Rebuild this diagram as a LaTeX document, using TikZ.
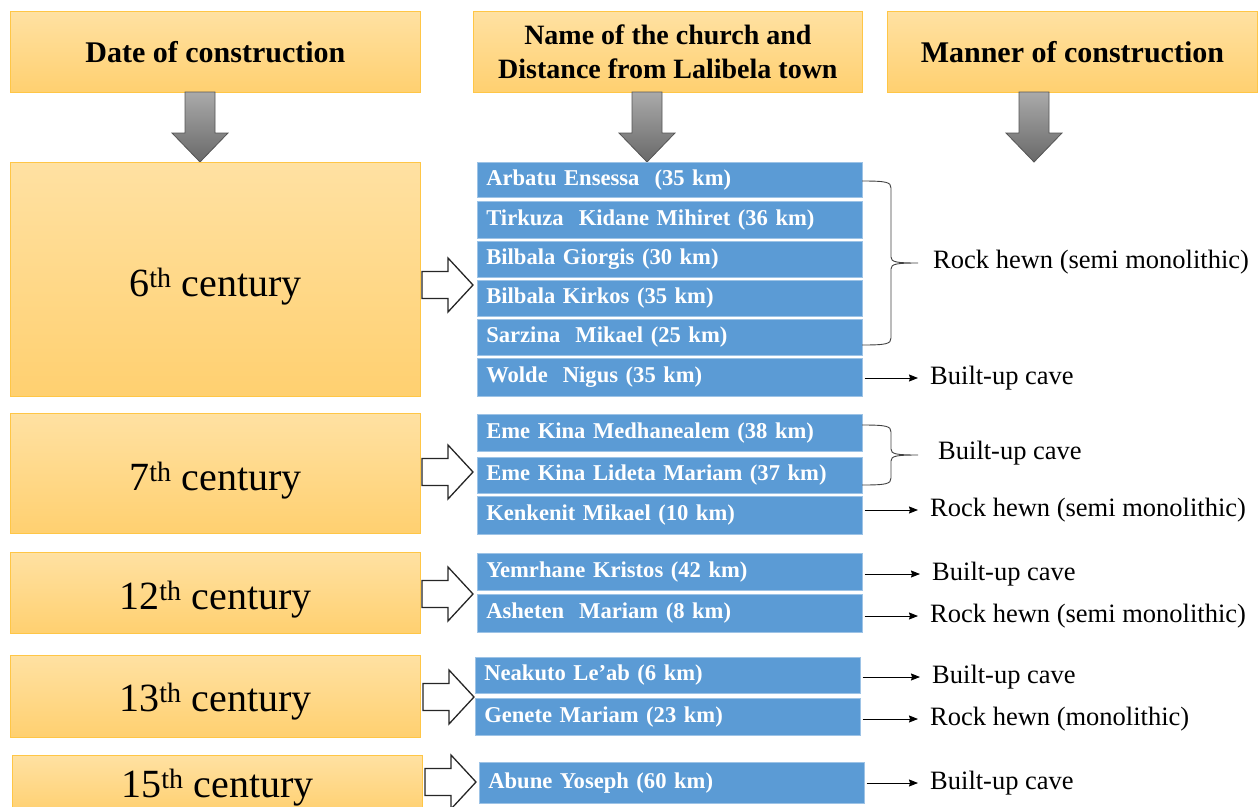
\documentclass[tikz,border=0pt]{standalone}
\usepackage{fontspec}
\setmainfont{Liberation Serif}
\usetikzlibrary{arrows.meta,calc}
\definecolor{cblue}{RGB}{91,155,213}
\definecolor{ytop}{RGB}{255,225,162}
\definecolor{ybot}{RGB}{255,208,112}
\definecolor{ybord}{RGB}{255,198,70}
\definecolor{gtop}{RGB}{170,170,170}
\definecolor{gbot}{RGB}{105,105,105}
\definecolor{gbord}{RGB}{85,85,85}
\newcommand\grayarrow[1]{\path[garrow] (#1-15,92) -- (#1+15,92) -- (#1+15,133) -- (#1+28,133) -- (#1,162) -- (#1-28,133) -- (#1-15,133) -- cycle;}
\newcommand\wharrow[2]{\draw[warrow] (#1,#2-13.5) -- (#1+26,#2-13.5) -- (#1+26,#2-27) -- (#1+51,#2) -- (#1+26,#2+27) -- (#1+26,#2+13.5) -- (#1,#2+13.5) -- cycle;}
\newcommand\rbrc[5]{% xleft, ytop, ybot, xmid, xtip
  \draw[brc] (#1,#2) .. controls (#4-5,#2) and (#4,#2+1) .. (#4,#2+7) -- ({#4},{(#2+#3)/2-6}) .. controls ({#4},{(#2+#3)/2-1}) and ({#4+5},{(#2+#3)/2}) .. ({#5},{(#2+#3)/2}) .. controls ({#4+5},{(#2+#3)/2}) and ({#4},{(#2+#3)/2+1}) .. ({#4},{(#2+#3)/2+6}) -- (#4,#3-7) .. controls (#4,#3-1) and (#4-5,#3) .. (#1,#3);}
\tikzset{
  ybox/.style={rectangle, draw=ybord, line width=0.8pt, top color=ytop, bottom color=ybot, inner sep=0pt, anchor=north west, align=center},
  bbox/.style={rectangle, fill=cblue, draw=cblue!60!white, line width=0.6pt, anchor=north west, text width=367pt, align=left, inner xsep=9pt, inner ysep=0pt, text=white, font=\fontsize{22.6}{26}\selectfont\bfseries},
  garrow/.style={draw=gbord, line width=0.8pt, top color=gtop, bottom color=gbot},
  warrow/.style={draw=black!85, line width=1.3pt, fill=white, line join=miter},
  brc/.style={draw=black!75, line width=0.9pt},
  rtext/.style={anchor=west, inner xsep=12pt, inner ysep=0pt, font=\fontsize{26.5}{30}\selectfont, text height=18pt, text depth=5.5pt},
  sarr/.style={draw=black, line width=0.9pt, -{Stealth[length=9pt,width=7pt,inset=1pt]}, shorten <=2pt},
  hfont/.style={font=\fontsize{30}{36}\selectfont\bfseries},
  cfont/.style={font=\fontsize{40}{48}\selectfont, text height=38pt, text depth=4pt}
}
\begin{document}
\begin{tikzpicture}[x=1pt,y=-1pt]
\useasboundingbox (0,0) rectangle (1258,806);
\clip (0,0) rectangle (1258,806);
% headers
\node[ybox, hfont, minimum width=410pt, minimum height=81pt] (h1) at (10,11) {Date of construction};
\node[ybox, font=\fontsize{28}{34}\selectfont\bfseries, minimum width=389pt, minimum height=81pt] (h2) at (473,11) {Name of the church and\\Distance from Lalibela town};
\node[ybox, hfont, minimum width=370pt, minimum height=81pt] (h3) at (887,11) {Manner of construction};
\grayarrow{200}
\grayarrow{647}
\grayarrow{1034}
% century boxes
\node[ybox, cfont, minimum width=410pt, minimum height=234pt] (c6) at (10,162) {6\textsuperscript{th} century};
\node[ybox, cfont, minimum width=410pt, minimum height=120pt] (c7) at (10,413) {7\textsuperscript{th} century};
\node[ybox, cfont, minimum width=410pt, minimum height=81pt] (c12) at (10,552) {12\textsuperscript{th} century};
\node[ybox, cfont, minimum width=410pt, minimum height=82pt, text height=34pt] (c13) at (10,655) {13\textsuperscript{th} century};
\node[ybox, cfont, minimum width=410pt, minimum height=58pt, text height=30pt] (c15) at (12,755) {15\textsuperscript{th} century};
% white arrows
\wharrow{422}{285}
\wharrow{422}{472}
\wharrow{422}{594}
\wharrow{423}{697}
\wharrow{425}{782}
% church boxes
\node[bbox, minimum height=35pt] (b1) at (477,162) {Arbatu Ensessa \ (35 km)};
\node[bbox, minimum height=37pt] (b2) at (477,201) {Tirkuza \ Kidane Mihiret (36 km)};
\node[bbox, minimum height=36pt] (b3) at (477,241) {Bilbala Giorgis (30 km)};
\node[bbox, minimum height=36pt] (b4) at (477,280) {Bilbala Kirkos (35 km)};
\node[bbox, minimum height=36pt] (b5) at (477,319) {Sarzina \ Mikael (25 km)};
\node[bbox, minimum height=38pt] (b6) at (477,358) {Wolde \ Nigus (35 km)};
\node[bbox, minimum height=37pt] (b7) at (477,414) {Eme Kina Medhanealem (38 km)};
\node[bbox, minimum height=36pt] (b8) at (477,457) {Eme Kina Lideta Mariam (37 km)};
\node[bbox, minimum height=38pt] (b9) at (477,496) {Kenkenit Mikael (10 km)};
\node[bbox, minimum height=37pt] (b10) at (477,553) {Yemrhane Kristos (42 km)};
\node[bbox, minimum height=38pt] (b11) at (477,594) {Asheten \ Mariam (8 km)};
\node[bbox, minimum height=36pt] (b12) at (475,657) {Neakuto Le’ab (6 km)};
\node[bbox, minimum height=37pt] (b13) at (475,698) {Genete Mariam (23 km)};
\node[bbox, minimum height=41pt] (b14) at (479,762) {Abune Yoseph (60 km)};
% braces
\rbrc{862}{181}{345}{891}{918}
\node[rtext] (t1) at (921,262) {Rock hewn (semi monolithic)};
\rbrc{862}{425}{485}{891}{918}
\node[rtext] (t2) at (926,453) {Built-up cave};
% right texts with arrows
\node[rtext] (t6) at (918,378) {Built-up cave};
\node[rtext] (t9) at (918,510) {Rock hewn (semi monolithic)};
\node[rtext] (t10) at (920,574) {Built-up cave};
\node[rtext] (t11) at (918,616) {Rock hewn (semi monolithic)};
\node[rtext] (t12) at (920,677) {Built-up cave};
\node[rtext] (t13) at (918,719) {Rock hewn (monolithic)};
\node[rtext] (t14) at (918,783) {Built-up cave};
\draw[sarr] (b6.east |- t6.west) -- (t6.west);
\draw[sarr] (b9.east |- t9.west) -- (t9.west);
\draw[sarr] (b10.east |- t10.west) -- (t10.west);
\draw[sarr] (b11.east |- t11.west) -- (t11.west);
\draw[sarr] (b12.east |- t12.west) -- (t12.west);
\draw[sarr] (b13.east |- t13.west) -- (t13.west);
\draw[sarr] (b14.east |- t14.west) -- (t14.west);
\end{tikzpicture}
\end{document}
